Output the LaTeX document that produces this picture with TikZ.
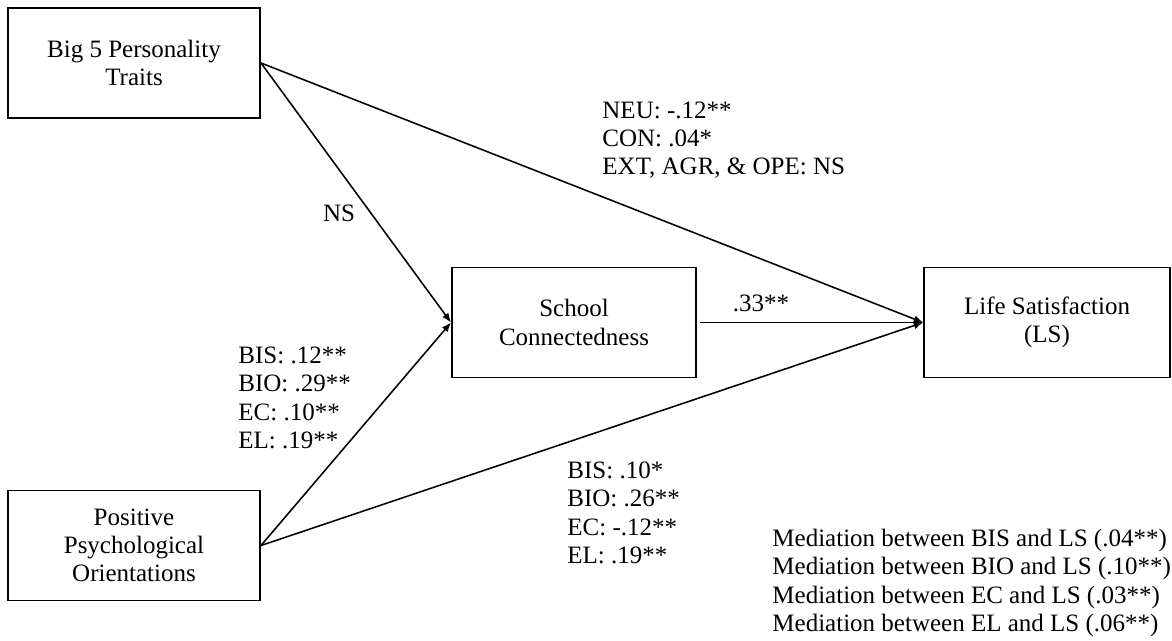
\documentclass[tikz,border=0pt]{standalone}
\usepackage{fontspec}
\setmainfont{Liberation Serif}
\usetikzlibrary{arrows.meta, positioning}

\begin{document}
\begin{tikzpicture}[
  x=0.48pt, y=-0.48pt,
  font=\fontsize{12}{13.6}\selectfont,
  box/.style={draw, line width=0.9pt, align=center, minimum height=52.8pt, inner sep=3pt},
  side/.style={box, minimum width=121pt},
  mid/.style={box, minimum width=117.2pt},
  lbl/.style={inner sep=0pt, align=left, anchor=west},
  flow/.style={-{Latex[length=4.5pt, width=3.6pt]}, line width=0.75pt},
]
  \useasboundingbox (0,0) rectangle (1172,640);

  % Boxes
  \node[side] (big5) at (134,63) {Big 5 Personality\\Traits};
  \node[side] (ppo) at (134,545.5) {Positive\\Psychological\\Orientations};
  \node[mid] (sc) at (574,322.5) {School\\Connectedness};
  \node[box, minimum width=118pt] (ls) at (1047,322.5) {Life Satisfaction\\(LS)};

  % Paths
  \draw[flow] (big5.east) -- (ls.west);
  \draw[flow] (big5.east) -- (sc.west);
  \draw[flow] (ppo.east) -- (sc.west);
  \draw[flow] (ppo.east) -- (ls.west);
  \draw[flow, shorten <=1.5pt] (sc.east) -- (ls.west);

  % Coefficients
  \node[lbl] (neu) at (602,140) {NEU: -.12**\\CON: .04*\\EXT, AGR, \& OPE: NS};
  \node (ns) at (339,213) {NS};
  \node (beta) at (761,303) {.33**};
  \node[lbl] (posc) at (238,398) {BIS: .12**\\BIO: .29**\\EC: .10**\\EL: .19**};
  \node[lbl] (posls) at (567,513) {BIS: .10*\\BIO: .26**\\EC: -.12**\\EL: .19**};

  % Indirect effects
  \node[lbl] (med) at (772,583) {Mediation between BIS and LS (.04**)\\Mediation between BIO and LS (.10**)\\Mediation between EC and LS (.03**)\\Mediation between EL and LS (.06**)};
\end{tikzpicture}
\end{document}
